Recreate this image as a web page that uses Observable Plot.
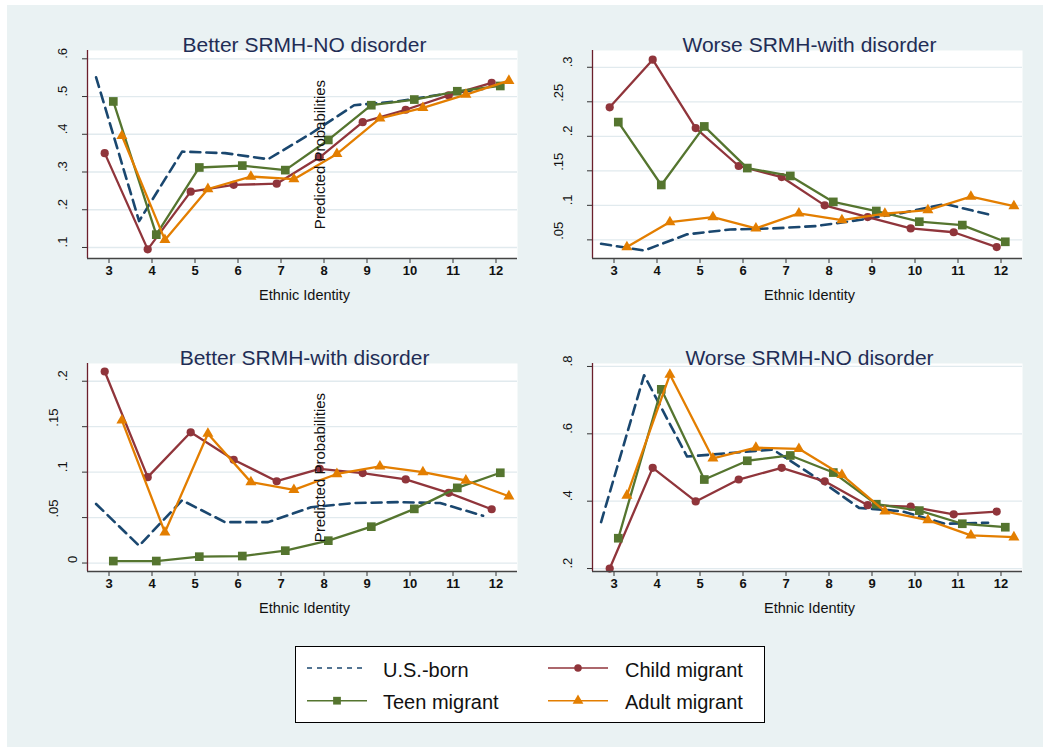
<!DOCTYPE html>
<html><head><meta charset="utf-8">
<script src="https://cdn.jsdelivr.net/npm/d3@7"></script>
<script src="https://cdn.jsdelivr.net/npm/@observablehq/plot@0.6"></script>
<style>
html,body{margin:0;padding:0;background:#fff;width:1043px;height:747px;overflow:hidden;}
#page{position:absolute;left:7px;top:5px;width:1036px;height:742px;background:#EAF2F3;}
.panel{position:absolute;width:530px;height:320px;}
.panel svg{background:transparent !important;max-width:none !important;}
#legend{position:absolute;left:295px;top:646px;}
</style></head><body>
<div id="page"></div>
<div id="p1" class="panel" style="left:0px;top:0px"></div>
<div id="p2" class="panel" style="left:505px;top:0px"></div>
<div id="p3" class="panel" style="left:0px;top:313px"></div>
<div id="p4" class="panel" style="left:505px;top:313px"></div>
<div id="legend"></div>
<script>
// ---------- data ----------
const ethnicIdentity = [3, 4, 5, 6, 7, 8, 9, 10, 11, 12];
const seriesNames = ["U.S.-born", "Child migrant", "Teen migrant", "Adult migrant"];

// Better SRMH-NO disorder
const betterNo_usBorn = [0.551, 0.170, 0.354, 0.350, 0.334, 0.402, 0.477, 0.487, 0.505, 0.520];
const betterNo_child  = [0.350, 0.095, 0.248, 0.266, 0.269, 0.339, 0.432, 0.465, 0.503, 0.536];
const betterNo_teen   = [0.487, 0.134, 0.312, 0.317, 0.305, 0.385, 0.477, 0.492, 0.514, 0.528];
const betterNo_adult  = [0.396, 0.120, 0.255, 0.288, 0.281, 0.348, 0.442, 0.470, 0.505, 0.542];

// Worse SRMH-with disorder
const worseWith_usBorn = [0.0443, 0.0346, 0.058, 0.065, 0.0666, 0.070, 0.0787, 0.089, 0.102, 0.087];
const worseWith_child  = [0.242, 0.311, 0.212, 0.157, 0.141, 0.100, 0.083, 0.0666, 0.061, 0.0395];
const worseWith_teen   = [0.2206, 0.1295, 0.2143, 0.154, 0.1426, 0.105, 0.0918, 0.0763, 0.0714, 0.0472];
const worseWith_adult  = [0.0395, 0.0758, 0.083, 0.0666, 0.0884, 0.0787, 0.088, 0.0932, 0.1126, 0.099];

// Better SRMH-with disorder
const betterWith_usBorn = [0.065, 0.019, 0.069, 0.045, 0.045, 0.0614, 0.066, 0.067, 0.066, 0.052];
const betterWith_child  = [0.2107, 0.0945, 0.1438, 0.1136, 0.090, 0.1037, 0.099, 0.092, 0.0772, 0.0592];
const betterWith_teen   = [0.0022, 0.0022, 0.007, 0.0077, 0.0136, 0.0246, 0.040, 0.0596, 0.0827, 0.0993];
const betterWith_adult  = [0.157, 0.0338, 0.1423, 0.089, 0.0805, 0.098, 0.1063, 0.100, 0.0908, 0.0735];

// Worse SRMH-NO disorder
const worseNo_usBorn = [0.338, 0.774, 0.5325, 0.543, 0.553, 0.470, 0.380, 0.370, 0.333, 0.336];
const worseNo_child  = [0.200, 0.499, 0.3993, 0.4643, 0.499, 0.459, 0.388, 0.3836, 0.361, 0.369];
const worseNo_teen   = [0.290, 0.732, 0.4643, 0.520, 0.5357, 0.485, 0.391, 0.372, 0.333, 0.3227];
const worseNo_adult  = [0.417, 0.776, 0.527, 0.559, 0.5556, 0.478, 0.370, 0.3437, 0.2986, 0.293];

// axis ticks & labels
const betterNo_yTicks = [0.1, 0.2, 0.3, 0.4, 0.5, 0.6];
const betterNo_yLabels = [".1", ".2", ".3", ".4", ".5", ".6"];
const worseWith_yTicks = [0.05, 0.1, 0.15, 0.2, 0.25, 0.3];
const worseWith_yLabels = [".05", ".1", ".15", ".2", ".25", ".3"];
const betterWith_yTicks = [0, 0.05, 0.1, 0.15, 0.2];
const betterWith_yLabels = ["0", ".05", ".1", ".15", ".2"];
const worseNo_yTicks = [0.2, 0.4, 0.6, 0.8];
const worseNo_yLabels = [".2", ".4", ".6", ".8"];

const xTitle = "Ethnic Identity";
const yTitle = "Predicted Probabilities";

// ---------- styles ----------
const FONT = "Liberation Sans, Arial, Helvetica, sans-serif";
const seriesStyle = {
  "U.S.-born":     {color: "#1a476f", offset: -0.3, symbol: null,       width: 2.6, dash: "10,6"},
  "Child migrant": {color: "#90353b", offset: -0.1, symbol: "circle",   r: 4.1, width: 2.3},
  "Teen migrant":  {color: "#55752f", offset:  0.1, symbol: "square",   r: 4.9, width: 2.3},
  "Adult migrant": {color: "#e37e00", offset:  0.3, symbol: "triangle", r: 4.1, width: 2.3}
};
const xDomain = [2.5, 12.5];

function drawPanel(el, cfg) {
  const rows = [];
  seriesNames.forEach((s, si) => cfg.values[si].forEach((v, i) => rows.push({series: s, x: ethnicIdentity[i], y: v})));
  const marks = [
    Plot.frame({fill: "white", stroke: "none"}),
    Plot.ruleY(cfg.yTicks, {y: d => d, stroke: "#E1EAEE", strokeWidth: 1.3})
  ];
  for (const s of seriesNames) {
    const st = seriesStyle[s];
    const data = rows.filter(d => d.series === s);
    marks.push(Plot.line(data, {x: d => d.x + st.offset, y: "y", stroke: st.color, strokeWidth: st.width, strokeDasharray: st.dash}));
    if (st.symbol) marks.push(Plot.dot(data, {x: d => d.x + st.offset, y: "y", symbol: st.symbol, r: st.r, fill: st.color, stroke: "none"}));
  }
  marks.push(
    Plot.ruleX([xDomain[0]], {x: d => d, stroke: "#6b1f2c", strokeWidth: 1.3}),
    Plot.ruleY([cfg.yDomain[0]], {y: d => d, stroke: "#444", strokeWidth: 1.3}),
    // x tick labels
    Plot.text(ethnicIdentity, {x: d => d, text: d => String(d), frameAnchor: "bottom", dy: 16.8, fontSize: 13, fontWeight: "bold", fill: "#111"}),
    // x title
    Plot.text([xTitle], {text: d => d, frameAnchor: "bottom", dy: 41, dx: 2, fontSize: 14.5, fill: "#111"}),
    // panel title
    Plot.text([cfg.title], {text: d => d, frameAnchor: "top", dy: -13, dx: 2, fontSize: 21, fill: "#1f2d55"})
  );
  // rotated y tick labels, grouped by label length
  const tickRows = cfg.yTicks.map((t, i) => ({t, label: cfg.yLabels[i]}));
  for (const len of [1, 2, 3]) {
    const g = tickRows.filter(d => d.label.length === len);
    if (g.length) marks.push(Plot.text(g, {y: "t", text: "label", frameAnchor: "left", rotate: -90, dx: -(15 + 9.5 * (len - 1)), fontSize: 13, fill: "#111"}));
  }
  if (cfg.showYTitle) {
    marks.push(Plot.text([yTitle], {text: d => d, frameAnchor: "middle", rotate: -90, dx: 18, fontSize: 15, fill: "#111"}));
  }
  const chart = Plot.plot({
    width: 530, height: 320,
    marginLeft: 87, marginRight: 13, marginTop: 50, marginBottom: 62,
    style: {background: "transparent", color: "#333", fontFamily: FONT, overflow: "visible"},
    x: {domain: xDomain, ticks: ethnicIdentity, tickSize: 5, tickFormat: () => "", label: null},
    y: {domain: cfg.yDomain, ticks: cfg.yTicks, tickSize: 5, tickFormat: () => "", label: null},
    marks
  });
  document.getElementById(el).appendChild(chart);
}

drawPanel("p1", {title: "Better SRMH-NO disorder", values: [betterNo_usBorn, betterNo_child, betterNo_teen, betterNo_adult],
  yDomain: [0.0708, 0.622], yTicks: betterNo_yTicks, yLabels: betterNo_yLabels, showYTitle: true});
drawPanel("p2", {title: "Worse SRMH-with disorder", values: [worseWith_usBorn, worseWith_child, worseWith_teen, worseWith_adult],
  yDomain: [0.023, 0.3243], yTicks: worseWith_yTicks, yLabels: worseWith_yLabels, showYTitle: false});
drawPanel("p3", {title: "Better SRMH-with disorder", values: [betterWith_usBorn, betterWith_child, betterWith_teen, betterWith_adult],
  yDomain: [-0.0093, 0.2195], yTicks: betterWith_yTicks, yLabels: betterWith_yLabels, showYTitle: true});
drawPanel("p4", {title: "Worse SRMH-NO disorder", values: [worseNo_usBorn, worseNo_child, worseNo_teen, worseNo_adult],
  yDomain: [0.1912, 0.8088], yTicks: worseNo_yTicks, yLabels: worseNo_yLabels, showYTitle: false});

// ---------- legend ----------
(function () {
  const W = 470, H = 77;
  const svg = d3.create("svg").attr("width", W).attr("height", H).style("display", "block")
    .style("font-family", FONT);
  svg.append("rect").attr("x", 0.5).attr("y", 0.5).attr("width", W - 1).attr("height", H - 1)
    .attr("fill", "white").attr("stroke", "#000").attr("stroke-width", 1);
  const pos = [
    {lx: 12, tx: 88, ly: 22, ty: 30.7},
    {lx: 253, tx: 330, ly: 22, ty: 30.7},
    {lx: 12, tx: 88, ly: 54.7, ty: 63},
    {lx: 253, tx: 330, ly: 54.7, ty: 63}
  ];
  seriesNames.forEach((s, i) => {
    const st = seriesStyle[s], p = pos[i];
    svg.append("line").attr("x1", p.lx).attr("x2", p.lx + 60).attr("y1", p.ly).attr("y2", p.ly)
      .attr("stroke", st.color).attr("stroke-width", st.symbol ? 1.6 : 1.6)
      .attr("stroke-dasharray", st.symbol ? null : "5,5");
    if (st.symbol) {
      const sym = {circle: d3.symbolCircle, square: d3.symbolSquare, triangle: d3.symbolTriangle}[st.symbol];
      const size = {circle: 44, square: 60, triangle: 50}[st.symbol];
      svg.append("path").attr("d", d3.symbol(sym, size)()).attr("transform", `translate(${p.lx + 30},${p.ly})`)
        .attr("fill", st.color);
    }
    svg.append("text").attr("x", p.tx).attr("y", p.ty).attr("font-size", 20).attr("fill", "#111").text(s);
  });
  document.getElementById("legend").appendChild(svg.node());
})();
</script>
</body></html>
